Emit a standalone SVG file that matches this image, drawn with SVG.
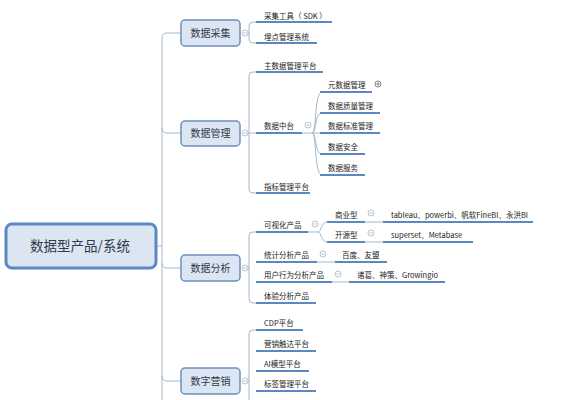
<svg xmlns="http://www.w3.org/2000/svg" width="570" height="400" viewBox="0 0 570 400">
<style>
.t{font-family:"Noto Sans CJK SC","Liberation Sans",sans-serif;fill:#222;font-size:7.5px}
.l1{font-family:"Noto Sans CJK SC","Liberation Sans",sans-serif;fill:#2d3a4a;font-size:10px;text-anchor:middle}
.root{font-family:"Noto Sans CJK SC","Liberation Sans",sans-serif;fill:#2d3a4a;font-size:13.5px;text-anchor:middle}
.n1{fill:#dce6f2;stroke:#6b8fbf;stroke-width:1.5}
.c{fill:none;stroke:#a4b7cc;stroke-width:1}
.u{fill:none;stroke:#5b87c2;stroke-width:2}
.k{fill:#fff;stroke:#a4b4c4;stroke-width:0.8}
.km{stroke:#a4b4c4;stroke-width:0.8}
</style>
<rect width="570" height="400" fill="#fff"/>
<g id="connectors">
<path class="c" d="M156 246 H162"/>
<path class="c" d="M181 33 H167 Q162 33 162 38 V400"/>
<path class="c" d="M162 128 Q162 133 167 133 H181"/>
<path class="c" d="M162 263 Q162 268 167 268 H181"/>
<path class="c" d="M162 376 Q162 381 167 381 H181"/>
<path class="c" d="M248 33 H249 M256 22 H253 Q249 22 249 26 V39 Q249 43 253 43 H256"/>
<path class="c" d="M248 133 H256 M256 72 H253 Q249 72 249 76 V189 Q249 193 253 193 H256"/>
<path class="c" d="M302 133 H312 M312 133 C317 133 314 92 322 92 M312 133 C317 133 314 113 322 113 M312 133 H322 M312 133 C317 133 314 154 322 154 M312 133 C317 133 314 175 322 175"/>
<path class="c" d="M248 268 H249 M256 232 H253 Q249 232 249 236 V299 Q249 303 253 303 H256"/>
<path class="c" d="M308 232 H318 M318 232 C322 232 320 222 328 222 M318 232 C322 232 320 242 328 242"/>
<path class="c" d="M365 222 H383 M365 242 H383 M317 262 H335 M332 282 H349"/>
<path class="c" d="M248 381 H249 M256 330 H253 Q249 330 249 334 V400"/>
</g>
<g id="root"><rect x="6" y="224" width="150" height="44" rx="6" fill="#dce6f2" stroke="#5b87c2" stroke-width="3"/><text class="root" x="80" y="251">数据型产品/系统</text></g>
<g id="n-caiji"><rect class="n1" x="181" y="20" width="59" height="26" rx="4"/><text class="l1" x="210.5" y="36.5">数据采集</text><circle class="k" cx="245" cy="33" r="3"/><path class="km" d="M243.3 33 H246.7"/></g>
<g id="n-guanli"><rect class="n1" x="181" y="121" width="59" height="25" rx="4"/><text class="l1" x="210.5" y="137">数据管理</text><circle class="k" cx="245" cy="133" r="3"/><path class="km" d="M243.3 133 H246.7"/></g>
<g id="n-fenxi"><rect class="n1" x="181" y="255" width="59" height="26" rx="4"/><text class="l1" x="210.5" y="271.5">数据分析</text><circle class="k" cx="245" cy="268" r="3"/><path class="km" d="M243.3 268 H246.7"/></g>
<g id="n-yingxiao"><rect class="n1" x="181" y="368" width="59" height="26" rx="4"/><text class="l1" x="210.5" y="384.5">数字营销</text><circle class="k" cx="245" cy="381" r="3"/><path class="km" d="M243.3 381 H246.7"/></g>
<g id="sdk"><path class="u" d="M256 22 H332"/><text class="t" x="264" y="18.5">采集工具（ SDK ）</text></g>
<g id="maidian"><path class="u" d="M256 43 H317"/><text class="t" x="264" y="39.5">埋点管理系统</text></g>
<g id="zhushuju"><path class="u" d="M256 72 H323"/><text class="t" x="264" y="68.5">主数据管理平台</text></g>
<g id="zhongtai"><path class="u" d="M256 133 H302"/><text class="t" x="264" y="129">数据中台</text><circle class="k" cx="308" cy="125" r="3"/><path class="km" d="M306.3 125 H309.7"/></g>
<g id="yuanshuju"><path class="u" d="M320 92 H372"/><text class="t" x="328" y="88">元数据管理</text><circle cx="378" cy="84" r="3" fill="#fff" stroke="#666" stroke-width="0.8"/><path d="M376.3 84 H379.7 M378 82.3 V85.7" stroke="#666" stroke-width="0.8"/></g>
<g id="zhiliang"><path class="u" d="M320 113 H380"/><text class="t" x="328" y="109">数据质量管理</text></g>
<g id="biaozhun"><path class="u" d="M320 133 H380"/><text class="t" x="328" y="129">数据标准管理</text></g>
<g id="anquan"><path class="u" d="M320 154 H365"/><text class="t" x="328" y="150">数据安全</text></g>
<g id="fuwu"><path class="u" d="M320 175 H365"/><text class="t" x="328" y="171">数据服务</text></g>
<g id="zhibiao"><path class="u" d="M256 193 H310"/><text class="t" x="264" y="189.5">指标管理平台</text></g>
<g id="keshihua"><path class="u" d="M256 232 H308"/><text class="t" x="264" y="228">可视化产品</text><circle class="k" cx="315" cy="224" r="3"/><path class="km" d="M313.3 224 H316.7"/></g>
<g id="shangye"><path class="u" d="M327 222 H365"/><text class="t" x="335" y="218">商业型</text><circle class="k" cx="371" cy="213" r="3"/><path class="km" d="M369.3 213 H372.7"/></g>
<g id="tableau"><path class="u" d="M383 222 H533"/><text class="t" x="391" y="218">tableau、powerbi、帆软FineBI、永洪BI</text></g>
<g id="kaiyuan"><path class="u" d="M327 242 H365"/><text class="t" x="335" y="238">开源型</text><circle class="k" cx="371" cy="233" r="3"/><path class="km" d="M369.3 233 H372.7"/></g>
<g id="superset"><path class="u" d="M383 242 H473"/><text class="t" x="391" y="238">superset、Metabase</text></g>
<g id="tongji"><path class="u" d="M256 262 H317"/><text class="t" x="264" y="258">统计分析产品</text><circle class="k" cx="323" cy="254" r="3"/><path class="km" d="M321.3 254 H324.7"/></g>
<g id="baidu"><path class="u" d="M335 262 H387"/><text class="t" x="342" y="258">百度、友盟</text></g>
<g id="yonghu"><path class="u" d="M256 282 H332"/><text class="t" x="264" y="278">用户行为分析产品</text><circle class="k" cx="338" cy="274" r="3"/><path class="km" d="M336.3 274 H339.7"/></g>
<g id="zhuge"><path class="u" d="M349 282 H445"/><text class="t" x="357" y="278">诸葛、神策、Growingio</text></g>
<g id="tiyan"><path class="u" d="M256 303 H316"/><text class="t" x="264" y="299">体验分析产品</text></g>
<g id="cdp"><path class="u" d="M256 330 H303"/><text class="t" x="264" y="326">CDP平台</text></g>
<g id="chuda"><path class="u" d="M256 351 H316"/><text class="t" x="264" y="347">营销触达平台</text></g>
<g id="ai"><path class="u" d="M256 371 H309"/><text class="t" x="264" y="367">AI模型平台</text></g>
<g id="biaoqian"><path class="u" d="M256 391 H316"/><text class="t" x="264" y="387">标签管理平台</text></g>
</svg>
